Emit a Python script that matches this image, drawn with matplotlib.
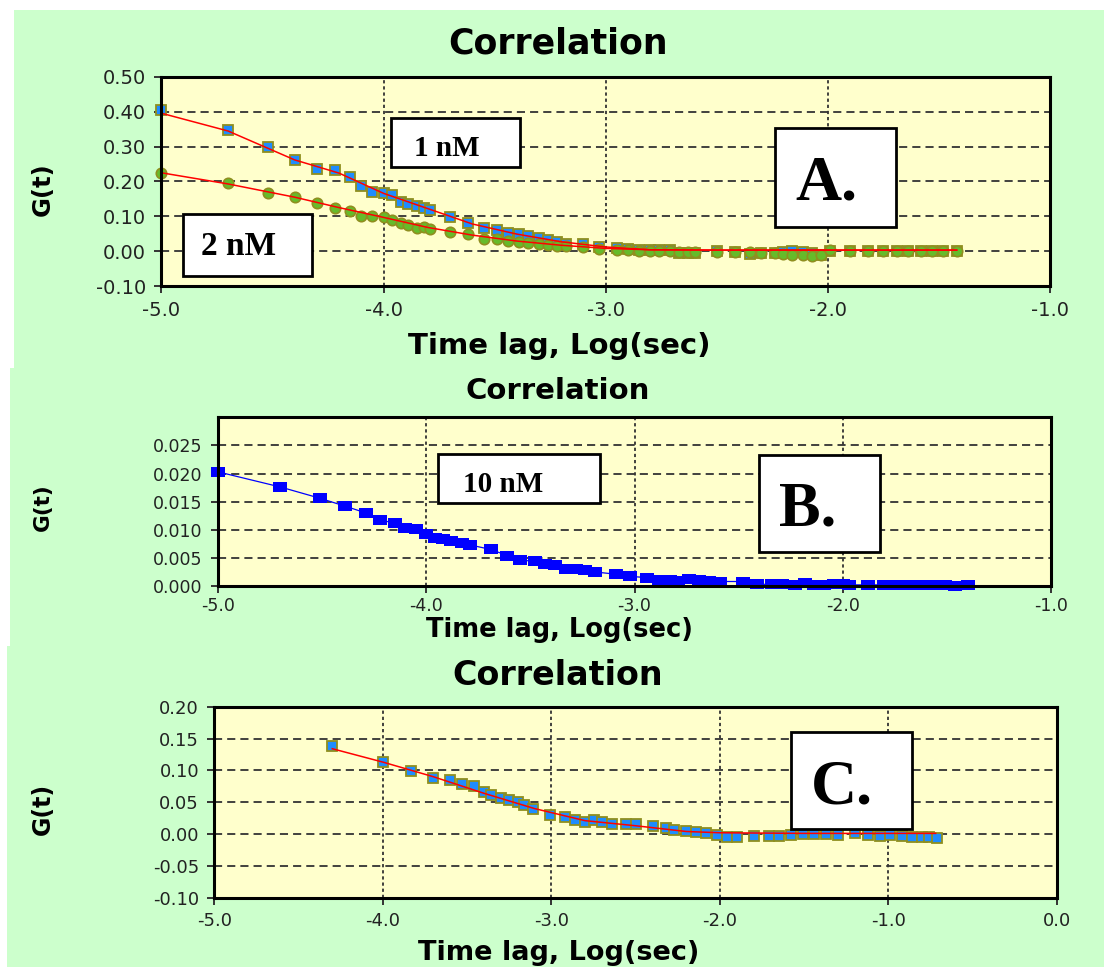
import matplotlib
matplotlib.use('Agg')
import matplotlib.pyplot as plt
from matplotlib.patches import Rectangle

W, H = 1104, 967
GREEN = '#ccffcc'
YELLOW = '#ffffcc'
SQ_BLUE = '#1e8cff'
OLIVE = '#8f8f1f'
CIRC_GREEN = '#66bb2a'

# --- A: 1 nM and 2 nM ---
lag_a = [-5.00, -4.70, -4.52, -4.40, -4.30, -4.22, -4.15, -4.10, -4.05, -4.00,
         -3.96, -3.92, -3.89, -3.85, -3.82, -3.79, -3.70, -3.62, -3.55, -3.49,
         -3.44, -3.39, -3.35, -3.30, -3.26, -3.22, -3.18, -3.10, -3.03, -2.95,
         -2.90, -2.85, -2.80, -2.76, -2.71, -2.67, -2.63, -2.60, -2.50, -2.42,
         -2.35, -2.30, -2.24, -2.20, -2.16, -2.11, -2.07, -2.03, -1.99, -1.90,
         -1.82, -1.75, -1.69, -1.64, -1.58, -1.53, -1.48, -1.42]
g_1nm = [0.405, 0.348, 0.299, 0.262, 0.235, 0.234, 0.214, 0.188, 0.170, 0.166,
         0.161, 0.140, 0.135, 0.130, 0.124, 0.119, 0.099, 0.082, 0.066, 0.060,
         0.053, 0.049, 0.044, 0.037, 0.031, 0.026, 0.022, 0.022, 0.012, 0.008,
         0.005, 0.003, 0.004, 0.002, 0.003, -0.005, -0.006, -0.005, 0.000, -0.002,
         -0.008, -0.005, -0.004, -0.003, 0.000, -0.002, -0.004, -0.010, 0.001, 0.000,
         0.000, 0.000, 0.000, 0.000, 0.000, 0.000, 0.000, 0.000]
g_2nm = [0.225, 0.195, 0.168, 0.155, 0.139, 0.123, 0.115, 0.101, 0.101, 0.097,
         0.090, 0.082, 0.075, 0.066, 0.070, 0.064, 0.054, 0.049, 0.035, 0.034,
         0.029, 0.027, 0.023, 0.021, 0.018, 0.016, 0.015, 0.012, 0.006, 0.003,
         0.002, 0.001, 0.001, 0.000, 0.000, -0.001, -0.002, -0.002, -0.001, -0.002,
         -0.003, -0.004, -0.004, -0.008, -0.010, -0.012, -0.014, -0.012, 0.003, 0.000,
         0.000, 0.000, 0.000, 0.000, 0.000, 0.000, 0.000, 0.000]
fit_lag_a = [-5.0, -4.7, -4.4, -4.2, -4.0, -3.8, -3.6, -3.4, -3.2, -3.0, -2.8, -2.5, -2.0, -1.42]
fit_1nm = [0.396, 0.345, 0.262, 0.224, 0.166, 0.122, 0.078, 0.049, 0.027, 0.012, 0.004, 0.003, 0.003, 0.003]
fit_2nm = [0.225, 0.193, 0.155, 0.125, 0.097, 0.068, 0.046, 0.029, 0.017, 0.008, 0.004, 0.003, 0.003, 0.003]

# --- B: 10 nM ---
lag_b = [-5.00, -4.70, -4.51, -4.39, -4.29, -4.22, -4.15, -4.10, -4.05, -4.00,
         -3.96, -3.92, -3.88, -3.83, -3.79, -3.69, -3.61, -3.55, -3.48, -3.43,
         -3.38, -3.33, -3.28, -3.24, -3.19, -3.09, -3.02, -2.94, -2.88, -2.83,
         -2.79, -2.74, -2.69, -2.64, -2.59, -2.48, -2.41, -2.34, -2.29, -2.23,
         -2.18, -2.14, -2.09, -2.04, -2.00, -1.97, -1.88, -1.80, -1.74, -1.68,
         -1.62, -1.57, -1.51, -1.46, -1.40]
g_10nm = [0.0203, 0.0176, 0.0156, 0.0142, 0.0130, 0.0117, 0.0112, 0.0103, 0.0101, 0.0092,
          0.0086, 0.0083, 0.0080, 0.0077, 0.0073, 0.0065, 0.0054, 0.0046, 0.0044, 0.0040,
          0.0037, 0.0031, 0.0030, 0.0028, 0.0025, 0.0021, 0.0017, 0.0015, 0.0011, 0.0011,
          0.0009, 0.0012, 0.0011, 0.0009, 0.0008, 0.0008, 0.0003, 0.0003, 0.0003, 0.0001,
          0.0005, 0.0001, 0.0001, 0.0003, 0.0003, 0.0002, 0.0002, 0.0002, 0.0002, 0.0002,
          0.0002, 0.0001, 0.0001, 0.0000, 0.0002]

# --- C ---
lag_c = [-4.30, -4.00, -3.83, -3.70, -3.60, -3.53, -3.46, -3.40, -3.36, -3.30,
         -3.25, -3.20, -3.16, -3.11, -3.01, -2.92, -2.86, -2.80, -2.75, -2.70,
         -2.64, -2.56, -2.50, -2.40, -2.32, -2.27, -2.20, -2.14, -2.08, -2.02,
         -1.96, -1.90, -1.80, -1.71, -1.65, -1.58, -1.51, -1.44, -1.37, -1.30,
         -1.20, -1.12, -1.05, -0.99, -0.92, -0.86, -0.80, -0.76, -0.71]
g_c = [0.138, 0.113, 0.099, 0.088, 0.085, 0.079, 0.075, 0.066, 0.061, 0.056,
       0.053, 0.050, 0.046, 0.040, 0.030, 0.027, 0.022, 0.019, 0.022, 0.019,
       0.016, 0.015, 0.016, 0.013, 0.009, 0.007, 0.004, 0.003, 0.001, -0.001,
       -0.005, -0.004, -0.003, -0.003, -0.003, -0.001, 0.000, 0.000, 0.000, -0.001,
       0.001, -0.001, -0.003, -0.001, -0.003, -0.004, -0.004, -0.004, -0.006]
fit_lag_c = [-4.30, -4.00, -3.70, -3.40, -3.10, -2.80, -2.50, -2.20, -2.00, -1.50, -1.00, -0.72]
fit_c = [0.134, 0.113, 0.090, 0.064, 0.040, 0.021, 0.013, 0.004, 0.002, 0.001, 0.001, 0.001]

TITLE = 'Correlation'
XLABEL = 'Time lag, Log(sec)'
YLABEL = 'G(t)'


def fig_rect(x0, y0, x1, y1):
    # pixel box (top-left origin) -> figure fraction [l, b, w, h]
    return [x0 / W, 1 - y1 / H, (x1 - x0) / W, (y1 - y0) / H]


def ftext(fig, x, y, s, **kw):
    return fig.text(x / W, 1 - y / H, s, **kw)


def panel_bg(fig, x0, y0, x1, y1):
    l, b, w, h = fig_rect(x0, y0, x1, y1)
    fig.add_artist(Rectangle((l, b), w, h, transform=fig.transFigure,
                             facecolor=GREEN, edgecolor='none', zorder=-1))


def label_box(fig, box, text, tx, ty, size):
    l, b, w, h = fig_rect(*box)
    fig.add_artist(Rectangle((l, b), w, h, transform=fig.transFigure,
                             facecolor='white', edgecolor='black', lw=2.0, zorder=5))
    ftext(fig, tx, ty, text, ha='center', va='baseline', fontsize=size,
          fontweight='bold', family='Liberation Serif', zorder=6)


def setup_axes(ax, xlim, ylim, xticks, yticks, yfmt, hgrid, vgrid, tsize, padx, pady):
    ax.set_facecolor(YELLOW)
    ax.set_xlim(xlim)
    ax.set_ylim(ylim)
    ax.set_xticks(xticks)
    ax.set_xticklabels([f'{v:.1f}' for v in xticks])
    ax.set_yticks(yticks)
    ax.set_yticklabels([yfmt.format(v) for v in yticks])
    for s in ax.spines.values():
        s.set_linewidth(2.2)
        s.set_zorder(4)
    ax.tick_params(direction='out', length=5, width=1.4, color='#333333',
                   labelsize=tsize, labelcolor='#222222')
    ax.tick_params(axis='x', pad=padx)
    ax.tick_params(axis='y', pad=pady)
    for y in hgrid:
        ax.axhline(y, color='#333333', lw=1.3, ls=(0, (4.5, 2.8)), zorder=1)
    for x in vgrid:
        ax.axvline(x, color='#333333', lw=1.3, ls=(0, (1.8, 1.6)), zorder=1)


fig = plt.figure(figsize=(W / 100, H / 100), dpi=100)
fig.patch.set_facecolor('white')

panel_bg(fig, 14, 10, 1104, 368)
panel_bg(fig, 10, 368, 1104, 648)
panel_bg(fig, 7, 646, 1104, 967)

# A
axA = fig.add_axes(fig_rect(161.4, 77, 1050, 286))
setup_axes(axA, (-5, -1), (-0.10, 0.50), [-5.0, -4.0, -3.0, -2.0, -1.0],
           [-0.10, 0.00, 0.10, 0.20, 0.30, 0.40, 0.50], '{:.2f}',
           [0.00, 0.10, 0.20, 0.30, 0.40], [-4, -3, -2], 14, 6, 6)
axA.plot(lag_a, g_1nm, ls='none', marker='s', ms=7.5, mfc=SQ_BLUE, mec=OLIVE,
         mew=1.3, clip_on=False, zorder=3)
axA.plot(lag_a, g_2nm, ls='none', marker='o', ms=7.5, mfc=CIRC_GREEN, mec=OLIVE,
         mew=1.2, clip_on=False, zorder=3)
axA.plot(fit_lag_a, fit_1nm, color='red', lw=1.1, zorder=3.5)
axA.plot(fit_lag_a, fit_2nm, color='red', lw=1.1, zorder=3.5)

# B
axB = fig.add_axes(fig_rect(218, 417.3, 1051, 586))
setup_axes(axB, (-5, -1), (0.0, 0.030), [-5.0, -4.0, -3.0, -2.0, -1.0],
           [0.000, 0.005, 0.010, 0.015, 0.020, 0.025], '{:.3f}',
           [0.005, 0.010, 0.015, 0.020, 0.025], [-4, -3, -2], 12.5, 3, 6)
rect_marker = [(-1, -0.72), (1, -0.72), (1, 0.72), (-1, 0.72), (-1, -0.72)]
axB.plot(lag_b, g_10nm, color='#0000ff', lw=0.9, marker=rect_marker, ms=10.5,
         mfc='#0000ff', mec='#0000ff', mew=0, clip_on=False, zorder=3)

# C
axC = fig.add_axes(fig_rect(214.3, 706.7, 1057, 897.7))
setup_axes(axC, (-5, 0), (-0.10, 0.20), [-5.0, -4.0, -3.0, -2.0, -1.0, 0.0],
           [-0.10, -0.05, 0.00, 0.05, 0.10, 0.15, 0.20], '{:.2f}',
           [-0.05, 0.00, 0.05, 0.10, 0.15], [-4, -3, -2, -1], 13, 5, 6)
axC.plot(lag_c, g_c, ls='none', marker='s', ms=7.5, mfc=SQ_BLUE, mec=OLIVE,
         mew=1.3, clip_on=False, zorder=3)
axC.plot(fit_lag_c, fit_c, color='red', lw=1.1, zorder=3.5)

# titles, axis labels
for (ty, tsz), (xy, xsz), (gy, gsz) in [((53, 25), (354, 21), (189, 17.5)),
                                        ((399, 21), (637, 18.5), (507, 15.5)),
                                        ((685, 24), (960, 19.5), (809, 17))]:
    ftext(fig, 558, ty, TITLE, ha='center', va='baseline', fontsize=tsz, fontweight='bold')
    ftext(fig, 559, xy, XLABEL, ha='center', va='baseline', fontsize=xsz, fontweight='bold')
    ftext(fig, 43, gy, YLABEL, ha='center', va='center', rotation=90,
          fontsize=gsz, fontweight='bold')

# concentration / panel boxes
label_box(fig, (391, 118, 520, 167), '1 nM', 447, 156, 21)
label_box(fig, (183, 214, 312, 276), '2 nM', 239, 255, 24)
label_box(fig, (775, 128, 896, 227), 'A.', 826, 200, 46)
label_box(fig, (438, 454, 600, 503), '10 nM', 503, 492, 21)
label_box(fig, (759, 455, 880, 552), 'B.', 808, 525, 45)
label_box(fig, (791, 732, 912, 829), 'C.', 842, 804, 46)

fig.savefig('out.png', dpi=100, facecolor=fig.get_facecolor())
